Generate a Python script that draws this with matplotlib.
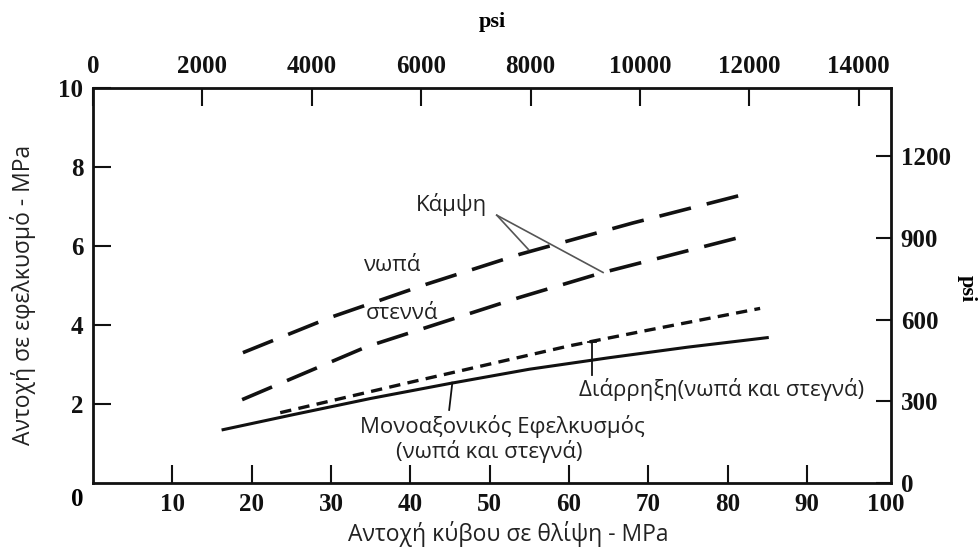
import numpy as np
import matplotlib.pyplot as plt

PSI = 145.04  # psi per MPa

# Κάμψη - νωπά
wet_x = [18.9, 29.9, 42.0, 53.8, 68.0, 83.1]
wet_y = [3.30, 4.19, 5.03, 5.79, 6.58, 7.36]
# Κάμψη - στεγνά
dry_x = [18.8, 34.5, 53.8, 64.3, 82.9]
dry_y = [2.11, 3.45, 4.70, 5.33, 6.29]
# Διάρρηξη
split_x = [23.6, 30.0, 40.0, 50.0, 60.0, 70.0, 84.1]
split_y = [1.78, 2.08, 2.55, 3.01, 3.47, 3.87, 4.42]
# Μονοαξονικός εφελκυσμός
uni_x = [16.4, 25.0, 35.0, 45.0, 55.0, 65.0, 75.0, 85.0]
uni_y = [1.35, 1.72, 2.14, 2.52, 2.88, 3.17, 3.44, 3.68]

mpa_ticks = np.arange(10, 101, 10)
tens_ticks = [2, 4, 6, 8, 10]
psi_top_ticks = np.arange(0, 14001, 2000)
psi_right_ticks = np.arange(0, 1201, 300)

sans = ['Open Sans', 'DejaVu Sans']
num_font = dict(family='Liberation Serif', weight='bold', size=18)
txt = '#222222'
ink = '#111111'
fs = 16

fig = plt.figure(figsize=(9.79, 5.51), dpi=100)
ax = fig.add_axes([93 / 979, 68 / 551, 798 / 979, 395 / 551])

ax.plot(wet_x, wet_y, color=ink, lw=2.6, dashes=(9, 4.5), solid_capstyle='butt')
ax.plot(dry_x, dry_y, color=ink, lw=2.6, dashes=(9, 4.5), solid_capstyle='butt')
ax.plot(split_x, split_y, color=ink, lw=2.4, dashes=(3.4, 2.2))
ax.plot(uni_x, uni_y, color=ink, lw=2.2)

ax.set_xlim(0, 100.6)
ax.set_ylim(0, 10)

ax.set_xticks(mpa_ticks)
ax.set_xticklabels([str(v) for v in mpa_ticks], fontdict=num_font)
ax.set_yticks(tens_ticks)
ax.set_yticklabels([str(v) for v in tens_ticks], fontdict=num_font)
ax.tick_params(direction='in', length=13, width=1.5, pad=7, colors=ink)
ax.xaxis.get_major_ticks()[-1].tick1line.set_visible(False)
for s in ax.spines.values():
    s.set_linewidth(2)
    s.set_color(ink)
ax.annotate('0', xy=(0, 0), xycoords='axes fraction', xytext=(-16, -17),
            textcoords='offset pixels', ha='center', va='center', **num_font)

top = ax.secondary_xaxis('top', functions=(lambda x: x * PSI, lambda p: p / PSI))
top.set_xticks(psi_top_ticks)
top.set_xticklabels([str(v) for v in psi_top_ticks], fontdict=num_font)
top.tick_params(direction='in', length=13, width=1.5, pad=7, colors=ink)
top.set_xlabel('psi', fontdict=dict(family='Liberation Serif', weight='bold', size=16),
               labelpad=20)

right = ax.secondary_yaxis('right', functions=(lambda y: y * PSI, lambda p: p / PSI))
right.set_yticks(psi_right_ticks)
right.set_yticklabels([str(v) for v in psi_right_ticks], fontdict=num_font)
right.tick_params(direction='in', length=11, width=1.5, pad=7, colors=ink)
fig.text(967 / 979, 1 - 289 / 551, 'psi', rotation=-90, ha='center', va='center',
         family='Liberation Serif', weight='bold', size=16)

ax.set_xlabel('Αντοχή κύβου σε θλίψη - MPa', family=sans, size=fs + 0.5, color=txt,
              va='center')
ax.xaxis.set_label_coords(0.52, -0.13)
ax.set_ylabel('Αντοχή σε εφελκυσμό - MPa', family=sans, size=fs + 0.5, color=txt,
              va='center')
ax.yaxis.set_label_coords(-0.088, 0.476)

# labels and leader lines
ax.text(45.2, 7.05, 'Κάμψη', family=sans, size=fs, color=txt, ha='center', va='center')
ax.plot([50.9, 54.9], [6.78, 5.91], color='#555555', lw=1.2)
ax.plot([50.9, 64.3], [6.78, 5.33], color='#555555', lw=1.2)
ax.text(37.8, 5.51, 'νωπά', family=sans, size=fs, color=txt, ha='center', va='center')
ax.text(39.0, 4.29, 'στεννά', family=sans, size=fs, color=txt, ha='center', va='center')
ax.text(51.6, 1.44, 'Μονοαξονικός Εφελκυσμός', family=sans, size=fs, color=txt,
        ha='center', va='center')
ax.text(49.9, 0.80, '(νωπά και στεγνά)', family=sans, size=fs, color=txt,
        ha='center', va='center')
ax.plot([45.3, 44.9], [2.54, 1.85], color=ink, lw=1.3)
ax.text(79.3, 2.36, 'Διάρρηξη(νωπά και στεγνά)', family=sans, size=fs, color=txt,
        ha='center', va='center')
ax.plot([62.9, 62.9], [3.58, 2.74], color=ink, lw=1.3)
ax.plot([62.4, 63.4], [3.58, 3.58], color=ink, lw=1.3)

fig.savefig('out.png', dpi=100)
